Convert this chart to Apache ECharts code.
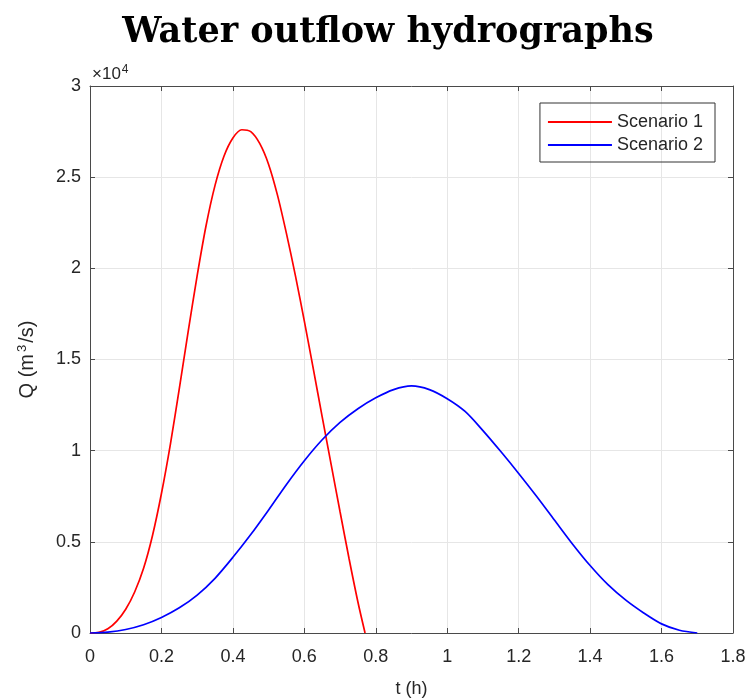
<!DOCTYPE html>
<html>
<head>
<meta charset="utf-8">
<script src="https://cdn.jsdelivr.net/npm/echarts@6/dist/echarts.min.js"></script>
<style>html,body{margin:0;padding:0;background:#fff}#c{width:751px;height:700px}</style>
</head>
<body>
<div id="c"></div>
<script>
const xTicks = [0, 0.2, 0.4, 0.6, 0.8, 1, 1.2, 1.4, 1.6, 1.8];
const yTickLabels = ['0', '0.5', '1', '1.5', '2', '2.5', '3'];
const t1 = [0, 0.025, 0.05, 0.075, 0.1, 0.125, 0.15, 0.175, 0.2, 0.225, 0.25, 0.275, 0.3, 0.325, 0.35, 0.375, 0.4, 0.425, 0.45, 0.475, 0.5, 0.525, 0.55, 0.575, 0.6, 0.625, 0.65, 0.675, 0.7, 0.725, 0.75, 0.77];
const q1 = [0, 40, 230, 650, 1300, 2250, 3550, 5350, 7650, 10350, 13400, 16550, 19600, 22350, 24550, 26150, 27150, 27600, 27500, 26850, 25700, 24000, 21900, 19600, 17100, 14500, 11850, 9250, 6650, 4100, 1700, 0];
const t2 = [0, 0.05, 0.1, 0.15, 0.2, 0.25, 0.3, 0.35, 0.4, 0.45, 0.5, 0.55, 0.6, 0.65, 0.7, 0.75, 0.8, 0.85, 0.9, 0.95, 1.0, 1.05, 1.1, 1.15, 1.2, 1.25, 1.3, 1.35, 1.4, 1.45, 1.5, 1.55, 1.6, 1.65, 1.7];
const q2 = [0, 50, 190, 450, 850, 1380, 2080, 3000, 4150, 5400, 6750, 8150, 9450, 10600, 11550, 12300, 12900, 13350, 13550, 13350, 12850, 12150, 11100, 9950, 8750, 7500, 6200, 4900, 3700, 2650, 1800, 1100, 500, 150, 0];
const seriesNames = ['Scenario 1', 'Scenario 2'];

const FONT = 'Arial, "Liberation Sans", sans-serif';
const AX = '#4a4a4a';
const TXT = '#262626';
const line = {show: true, onZero: false, lineStyle: {color: AX, width: 1}};
const tick = {show: true, inside: true, length: 5, lineStyle: {color: AX}};
const chart = echarts.init(document.getElementById('c'), null, {renderer: 'canvas'});
chart.setOption({
  animation: false,
  title: {
    text: 'Water outflow hydrographs',
    left: 383, top: 10, textAlign: 'center',
    textStyle: {fontFamily: '"DejaVu Serif", serif', fontWeight: 'bold', fontSize: 35, color: '#000'}
  },
  grid: {left: 90, right: 18, top: 86, bottom: 67, containLabel: false, outerBoundsMode: 'none'},
  legend: {
    data: seriesNames, orient: 'vertical', right: 36, top: 103,
    borderColor: '#333', borderWidth: 1, padding: [10, 12, 8, 8], itemGap: 5,
    itemWidth: 64, itemHeight: 2, icon: 'rect',
    textStyle: {fontFamily: FONT, fontSize: 18, color: TXT}
  },
  xAxis: [{
    type: 'value', min: 0, max: 1.8, interval: 0.2,
    axisLine: line, axisTick: tick,
    splitLine: {show: true, lineStyle: {color: '#e6e6e6', width: 1}},
    axisLabel: {fontFamily: FONT, fontSize: 18, color: TXT, margin: 15,
      formatter: v => { const i = xTicks.findIndex(x => Math.abs(x - v) < 1e-9); return i >= 0 ? String(xTicks[i]) : ''; }},
    name: 't (h)', nameLocation: 'middle', nameGap: 47,
    nameTextStyle: {fontFamily: FONT, fontSize: 18, color: TXT}
  }, {
    type: 'value', position: 'top', min: 0, max: 1.8, interval: 0.2,
    axisLine: line, axisTick: tick,
    splitLine: {show: false}, axisLabel: {show: false}
  }],
  yAxis: [{
    type: 'value', min: 0, max: 30000, interval: 5000,
    axisLine: line, axisTick: tick,
    splitLine: {show: true, lineStyle: {color: '#e6e6e6', width: 1}},
    axisLabel: {fontFamily: FONT, fontSize: 18, color: TXT, margin: 9,
      formatter: v => yTickLabels[Math.round(v / 5000)]},
    name: '{a|Q (m}{s|3}{a|/s)}', nameLocation: 'middle', nameGap: 51, nameRotate: 90,
    nameTextStyle: {rich: {
      a: {fontFamily: FONT, fontSize: 20, color: TXT},
      s: {fontFamily: FONT, fontSize: 13, color: TXT, verticalAlign: 'top', padding: [0, 2, 10, 2]}
    }}
  }, {
    type: 'value', position: 'right', min: 0, max: 30000, interval: 5000,
    axisLine: line, axisTick: tick,
    splitLine: {show: false}, axisLabel: {show: false}
  }],
  graphic: [{
    type: 'text', left: 92, top: 64,
    style: {
      text: '{a|\u00d710}{s|4}',
      rich: {
        a: {fontFamily: FONT, fontSize: 17, fill: TXT},
        s: {fontFamily: FONT, fontSize: 12, fill: TXT, verticalAlign: 'top', padding: [0, 0, 8, 1]}
      }
    }
  }],
  series: [{
    name: seriesNames[0], type: 'line', showSymbol: false, smooth: 0.3,
    lineStyle: {color: '#ff0000', width: 1.7}, itemStyle: {color: '#ff0000'},
    data: t1.map((t, i) => [t, q1[i]])
  }, {
    name: seriesNames[1], type: 'line', showSymbol: false, smooth: 0.3,
    lineStyle: {color: '#0000ff', width: 1.7}, itemStyle: {color: '#0000ff'},
    data: t2.map((t, i) => [t, q2[i]])
  }]
});
</script>
</body>
</html>
